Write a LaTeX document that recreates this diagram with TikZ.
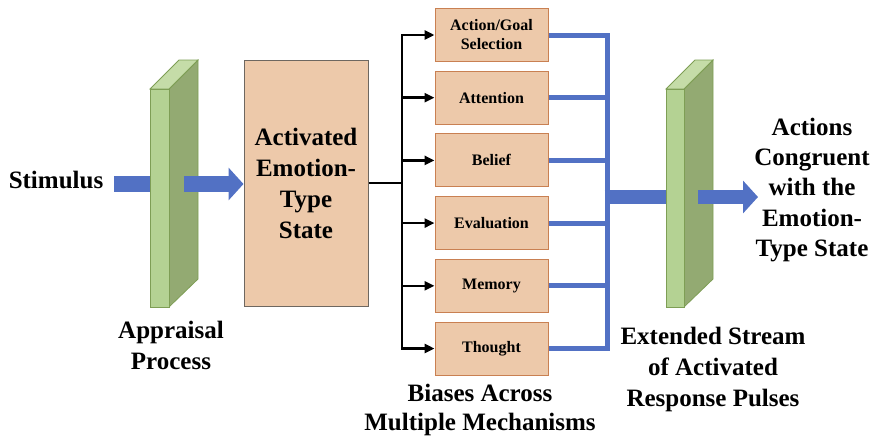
\documentclass[tikz,border=0pt]{standalone}
\usepackage{fontspec}
\setmainfont{Liberation Serif}
\usetikzlibrary{arrows.meta, positioning, calc}
\definecolor{peach}{HTML}{EDC9AA}
\definecolor{peachedge}{HTML}{C98052}
\definecolor{stateedge}{HTML}{6E6760}
\definecolor{slabfront}{HTML}{B4D293}
\definecolor{slabside}{HTML}{93AA72}
\definecolor{slabtop}{HTML}{C5DCA8}
\definecolor{slabedge}{HTML}{7E9E55}
\definecolor{pulse}{HTML}{5271C4}
% a green filter slab: front face at #1 (x), depth 29
\newcommand{\slab}[2]{%
  \draw[slabedge, line width=0.8pt, fill=slabside]
    (#1+#2,89) -- (#1+#2+29,60) -- (#1+#2+29,279) -- (#1+#2,307) -- cycle;
  \draw[slabedge, line width=0.8pt, fill=slabtop]
    (#1,89) -- (#1+29,60) -- (#1+#2+29,60) -- (#1+#2,89) -- cycle;
  \draw[slabedge, line width=0.8pt, fill=slabfront]
    (#1,89) rectangle (#1+#2,307);}

\begin{document}
\begin{tikzpicture}[x=1pt, y=-1pt, font=\bfseries,
    label/.style={inner sep=0pt, align=center,
                  font=\bfseries\fontsize{25}{31}\selectfont},
    mech/.style={draw=peachedge, fill=peach, line width=1pt,
                 minimum width=113pt, minimum height=53pt, inner sep=0pt,
                 align=center, font=\bfseries\fontsize{16}{19}\selectfont},
    statebox/.style={draw=stateedge, fill=peach, line width=1pt,
                     minimum width=124pt, minimum height=246pt, inner sep=0pt,
                     align=center, font=\bfseries\fontsize{25}{31}\selectfont},
    fan/.style={black, line width=2.6pt, >={Triangle[length=10pt, width=9pt]}},
    pulseline/.style={pulse, line width=5pt},
    wide/.style={pulse, line width=16pt},
    widetip/.style={-{Triangle[length=15pt, width=32pt]}}]
  \useasboundingbox (0,0) rectangle (877,439);

  % labels
  \node[label] (stim) at (56,180) {Stimulus};
  \node[label] (appr) at (171,345) {Appraisal\\Process};
  \node[label, font=\bfseries\fontsize{25}{29}\selectfont] (bias) at (480,410)
    {Biases Across\\Multiple Mechanisms};
  \node[label] (stream) at (713,369)
    {Extended Stream\\of Activated\\Response Pulses};
  \node[label, font=\bfseries\fontsize{25}{30.3}\selectfont] (acts) at (812,190)
    {Actions\\Congruent\\with the\\Emotion-\\Type State};

  % input arrow through the appraisal slab
  \coordinate (inA) at (114,184);
  \coordinate (inB) at (151,184);
  \coordinate (inC) at (184,184);
  \draw[wide] (inA) -- (inB);
  \slab{150}{19}
  \node[statebox] (state) at (306,183) {Activated\\Emotion-\\Type\\State};
  \draw[wide, widetip] (inC) -- (state.west |- inC);

  % mechanisms
  \node[mech] (m1) at (491.5,35) {Action/Goal\\Selection};
  \node[mech] (m2) at (491.5,97.7) {Attention};
  \node[mech] (m3) at (491.5,160.4) {Belief};
  \node[mech] (m4) at (491.5,223.1) {Evaluation};
  \node[mech] (m5) at (491.5,285.8) {Memory};
  \node[mech] (m6) at (491.5,348.5) {Thought};

  \coordinate (split) at (402,183);
  \coordinate (merge) at (607,197);
  \draw[fan] (state.east |- split) -- (split);
  \draw[fan, <->] (m1.west) -- (split |- m1.west)
    -- (split |- m6.west) -- (m6.west);
  \foreach \m in {m2,m3,m4,m5}
    \draw[fan, ->] (split |- \m.west) -- (\m.west);

  \draw[pulseline] (m1.east) -- (merge |- m1.east)
    -- (merge |- m6.east) -- (m6.east);
  \foreach \m in {m2,m3,m4,m5}
    \draw[pulseline] (\m.east) -- (merge |- \m.east);

  % output arrow through the second slab
  \coordinate (outA) at (667,197);
  \coordinate (outB) at (698,197);
  \coordinate (outC) at (758,197);
  \draw[wide, line width=14pt] ($(merge)+(-2.5,0)$) -- (outA);
  \slab{666}{18}
  \draw[wide, line width=14pt, widetip] (outB) -- (outC);
\end{tikzpicture}
\end{document}
